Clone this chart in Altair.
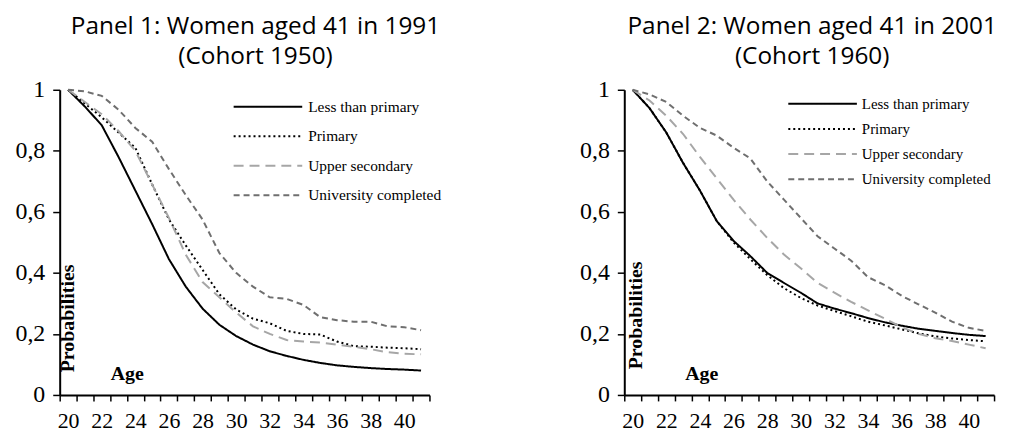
import altair as alt
import pandas as pd

ages = list(range(20, 42))
series = ["Less than primary", "Primary", "Upper secondary", "University completed"]

# Panel 1: cohort 1950
p1_less = [1.0, 0.945, 0.884, 0.78, 0.67, 0.56, 0.445, 0.355, 0.283, 0.23, 0.193, 0.165,
           0.143, 0.128, 0.115, 0.105, 0.097, 0.092, 0.088, 0.085, 0.083, 0.08]
p1_primary = [1.0, 0.955, 0.91, 0.86, 0.81, 0.69, 0.575, 0.49, 0.41, 0.33, 0.28, 0.25,
              0.235, 0.21, 0.20, 0.198, 0.175, 0.16, 0.158, 0.155, 0.153, 0.15]
p1_upper = [1.0, 0.96, 0.92, 0.865, 0.80, 0.69, 0.58, 0.46, 0.37, 0.32, 0.27, 0.225,
            0.20, 0.18, 0.175, 0.172, 0.165, 0.158, 0.15, 0.14, 0.135, 0.133]
p1_univ = [1.0, 0.995, 0.98, 0.935, 0.875, 0.83, 0.74, 0.655, 0.575, 0.465, 0.40, 0.355,
           0.32, 0.315, 0.295, 0.255, 0.245, 0.24, 0.24, 0.225, 0.222, 0.212]

# Panel 2: cohort 1960
p2_less = [1.0, 0.94, 0.86, 0.76, 0.67, 0.57, 0.505, 0.455, 0.40, 0.367, 0.335, 0.30,
           0.283, 0.268, 0.252, 0.238, 0.227, 0.217, 0.21, 0.203, 0.197, 0.193]
p2_primary = [1.0, 0.94, 0.86, 0.76, 0.67, 0.57, 0.50, 0.445, 0.393, 0.35, 0.318, 0.293,
              0.275, 0.258, 0.24, 0.228, 0.215, 0.202, 0.192, 0.185, 0.18, 0.176]
p2_upper = [1.0, 0.965, 0.915, 0.855, 0.78, 0.71, 0.64, 0.575, 0.515, 0.46, 0.415, 0.367,
            0.335, 0.305, 0.277, 0.25, 0.222, 0.20, 0.186, 0.177, 0.165, 0.153]
p2_univ = [1.0, 0.985, 0.96, 0.915, 0.875, 0.85, 0.81, 0.775, 0.70, 0.64, 0.58, 0.52,
           0.48, 0.44, 0.386, 0.36, 0.325, 0.297, 0.27, 0.24, 0.22, 0.21]

y_ticks = [0, 0.2, 0.4, 0.6, 0.8, 1]
x_ticks = [a - 0.5 for a in ages] + [41.5]

colors = ["#000000", "#000000", "#a6a6a6", "#6f6f6f"]
dashes = [[1, 0], [2, 3], [10, 6], [6, 4]]

SERIF = "Liberation Serif"
W, H = 372, 307


def panel(title_lines, title_dx, values, widths, leg_range, leg_x1, leg_x2, leg_tx,
          leg_font, prob_xy, age_xy):
    rows = []
    for s, vals in zip(series, values):
        for a, v in zip(ages, vals):
            rows.append({"age": a, "p": v, "series": s})
    df = pd.DataFrame(rows)

    color = alt.Color("series:N", scale=alt.Scale(domain=series, range=colors), legend=None)
    dash = alt.StrokeDash("series:N", scale=alt.Scale(domain=series, range=dashes), legend=None)
    sw = alt.StrokeWidth("series:N", scale=alt.Scale(domain=series, range=widths), legend=None)

    x = alt.X(
        "age:Q",
        scale=alt.Scale(domain=[19.5, 41.5], nice=False, zero=False),
        axis=alt.Axis(
            values=x_ticks,
            labelExpr="(datum.value < 41 && (datum.value + 0.5) % 2 == 0) ? '' + (datum.value + 0.5) : ''",
            labelOffset=W / 44,
            labelOverlap=False,
            labelBound=False,
            labelFlush=False,
            title=None,
            tickSize=6,
            labelPadding=10,
            labelFontSize=22,
        ),
    )
    y = alt.Y(
        "p:Q",
        scale=alt.Scale(domain=[0, 1], nice=False, zero=True),
        axis=alt.Axis(
            values=y_ticks,
            labelExpr="replace(format(datum.value, '~g'), '.', ',')",
            title=None,
            tickSize=7,
            labelPadding=8,
            labelFontSize=24,
        ),
    )

    lines = alt.Chart(df).mark_line().encode(
        x=x, y=y, color=color, strokeDash=dash, strokeWidth=sw
    )

    leg = pd.DataFrame({"series": series, "row": [0, 1, 2, 3]})
    ly = alt.Y("row:Q", scale=alt.Scale(domain=[0, 3], range=leg_range), axis=None)
    leg_rules = alt.Chart(leg).mark_rule().encode(
        x=alt.value(leg_x1), x2=alt.value(leg_x2), y=ly,
        color=color, strokeDash=dash, strokeWidth=sw,
    )
    leg_text = alt.Chart(leg).mark_text(
        align="left", baseline="middle", font=SERIF, fontSize=leg_font, color="black"
    ).encode(x=alt.value(leg_tx), y=ly, text="series:N")

    prob = alt.Chart(pd.DataFrame({"t": ["Probabilities"]})).mark_text(
        angle=270, font=SERIF, fontSize=20, fontWeight="bold", color="black",
        align="center", baseline="middle",
    ).encode(x=alt.value(prob_xy[0]), y=alt.value(prob_xy[1]), text="t:N")
    age_lbl = alt.Chart(pd.DataFrame({"t": ["Age"]})).mark_text(
        font=SERIF, fontSize=20, fontWeight="bold", color="black",
        align="center", baseline="middle",
    ).encode(x=alt.value(age_xy[0]), y=alt.value(age_xy[1]), text="t:N")

    return alt.layer(lines, leg_rules, leg_text, prob, age_lbl).resolve_scale(
        y="independent"
    ).properties(
        width=W,
        height=H,
        title=alt.TitleParams(
            title_lines, font="Open Sans", fontSize=24.5, fontWeight="normal",
            anchor="middle", frame="group", offset=8, lineHeight=31, color="black",
            dx=title_dx,
        ),
    )


panel1 = panel(
    ["Panel 1: Women aged 41 in 1991", "(Cohort 1950)"], 11,
    [p1_less, p1_primary, p1_upper, p1_univ],
    [2, 2, 2.5, 2.5],
    [17, 106], 175, 244, 250, 15.5,
    (8, 230), (68, 286),
)
panel2 = panel(
    ["Panel 2: Women aged 41 in 2001", "(Cohort 1960)"], 3,
    [p2_less, p2_primary, p2_upper, p2_univ],
    [3.8, 2, 2.5, 2.5],
    [14, 90], 165, 234, 239, 15,
    (12, 227), (78, 286),
)

chart = alt.hconcat(panel1, panel2, spacing=139).configure(
    padding={"left": 7, "top": 4, "right": 0, "bottom": 0}
).configure_view(stroke=None).configure_axis(
    grid=False,
    domainColor="black",
    domainWidth=2,
    tickColor="black",
    tickWidth=1.5,
    labelFont=SERIF,
    labelColor="black",
)

chart.save("out.html", embed_options={"renderer": "svg", "actions": False})
